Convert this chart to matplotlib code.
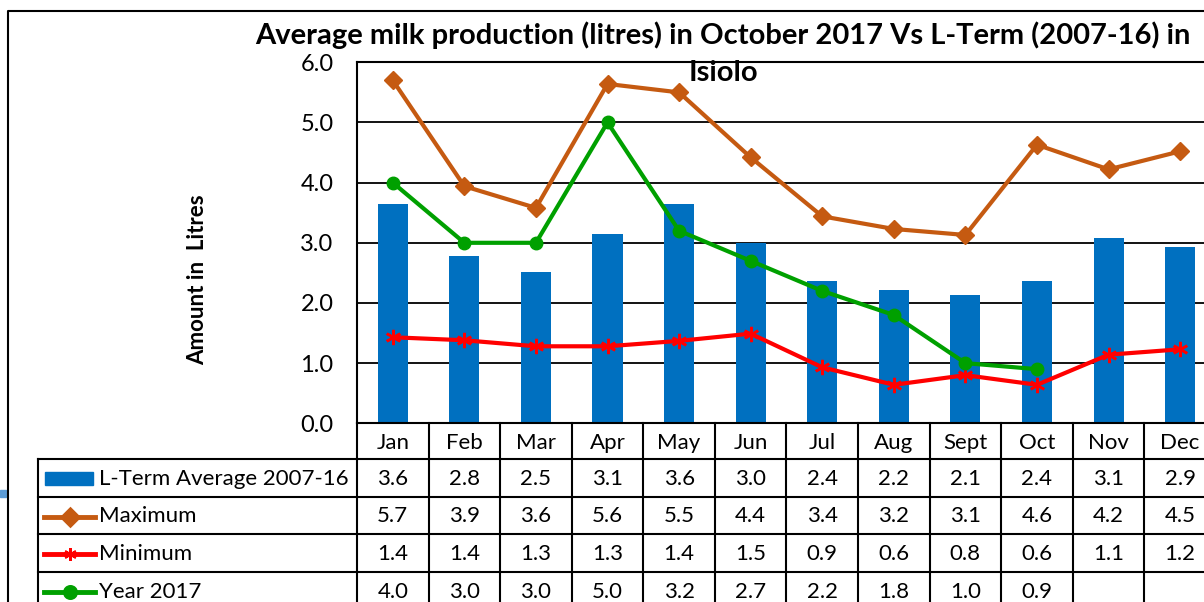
import matplotlib.pyplot as plt
from matplotlib.lines import Line2D
from matplotlib.patches import Rectangle
from matplotlib import transforms

months = ['Jan', 'Feb', 'Mar', 'Apr', 'May', 'Jun', 'Jul', 'Aug', 'Sept', 'Oct', 'Nov', 'Dec']
lterm_avg = [3.64, 2.78, 2.52, 3.14, 3.64, 3.0, 2.37, 2.22, 2.14, 2.37, 3.08, 2.93]
maximum = [5.7, 3.94, 3.58, 5.64, 5.5, 4.42, 3.44, 3.23, 3.13, 4.63, 4.22, 4.52]
minimum = [1.43, 1.38, 1.28, 1.28, 1.37, 1.49, 0.93, 0.64, 0.8, 0.64, 1.14, 1.23]
year_2017 = [4.0, 3.0, 3.0, 5.0, 3.2, 2.7, 2.2, 1.8, 1.0, 0.9]

series = [
    ('L-Term Average 2007-16', lterm_avg, '#0070C0', None),
    ('Maximum', maximum, '#C55A11', 'D'),
    ('Minimum', minimum, '#FF0000', (6, 2, 0)),
    ('Year 2017', year_2017, '#00A000', 'o'),
]

W, H = 1204, 602
FONT = 'Lato'


def fx(px): return px / W
def fy(py): return 1 - py / H


fig = plt.figure(figsize=(W / 100, H / 100), dpi=100)
# plot area runs past the right edge of the picture (cropped original)
ax = fig.add_axes([fx(357), fy(423.3), (1215.9 - 357) / W, (423.3 - 62.3) / H])

x = list(range(len(months)))
ax.bar(x, lterm_avg, width=0.42, color='#0070C0', zorder=2)
for name, vals, col, mk in series[1:]:
    xs = x[:len(vals)]
    if name == 'Minimum':
        ax.plot(xs, vals, color=col, lw=3, marker=mk, ms=11, mew=1.8, zorder=3)
    else:
        ax.plot(xs, vals, color=col, lw=3, marker=mk, ms=9, zorder=3)

ax.set_xlim(-0.5, 11.5)
ax.set_ylim(0, 6)
ax.set_yticks([0, 1, 2, 3, 4, 5, 6])
ax.set_yticklabels([f'{v:.1f}' for v in range(7)], fontsize=17, family=FONT)
ax.tick_params(axis='y', length=0, pad=17)
ax.set_xticks([])
ax.grid(axis='y', color='black', lw=1.3, zorder=1)
for s in ax.spines.values():
    s.set_linewidth(1.5)

fig.text(fx(198), fy(280), 'Amount in  Litres', rotation=90, ha='center', va='center',
         fontsize=16, fontweight='bold', family=FONT)
fig.text(fx(723), fy(35), 'Average milk production (litres) in October 2017 Vs L-Term (2007-16) in',
         ha='center', va='center', fontsize=21, fontweight='bold', family=FONT)
fig.text(fx(723), fy(73), 'Isiolo', ha='center', va='center', fontsize=21, fontweight='bold', family=FONT)

# data table below the plot
tr = transforms.blended_transform_factory(ax.transData, fig.transFigure)
rows_y = [423.3, 459, 496.7, 534.3, 572.3, 610]
lw = 1.5
for i in range(len(months) + 1):
    fig.add_artist(Line2D([i - 0.5, i - 0.5], [fy(rows_y[0]), fy(rows_y[-1])], color='black', lw=lw, transform=tr))
for ry in rows_y[1:-1]:
    fig.add_artist(Line2D([fx(38.3), fx(W + 20)], [fy(ry), fy(ry)], color='black', lw=lw))
fig.add_artist(Line2D([fx(38.3), fx(38.3)], [fy(459), fy(610)], color='black', lw=lw))

for i, m in enumerate(months):
    fig.text(i, fy((rows_y[0] + rows_y[1]) / 2 + 1.5), m, transform=tr, ha='center', va='center',
             fontsize=16, family=FONT)
for r, (name, vals, col, mk) in enumerate(series):
    yc = fy((rows_y[r + 1] + rows_y[r + 2]) / 2 + 1)
    for i, v in enumerate(vals):
        fig.text(i, yc, f'{v:.1f}', transform=tr, ha='center', va='center', fontsize=16, family=FONT)
    fig.text(fx(99), yc, name, ha='left', va='center', fontsize=16, family=FONT)
    if mk is None:
        fig.add_artist(Rectangle((fx(45), yc - 6.5 / H), 48 / W, 13 / H, color=col))
    else:
        fig.add_artist(Line2D([fx(44), fx(95)], [yc, yc], color=col, lw=3.5))
        fig.add_artist(Line2D([fx(69.5)], [yc], color=col, marker=mk, ms=9, mew=1.8))

# outer chart border and stray piece of the sheet behind it
fig.add_artist(Line2D([fx(8), fx(8), fx(W + 5)], [fy(H + 5), fy(10.5), fy(10.5)], color='black', lw=1.5))
fig.add_artist(Rectangle((0, fy(497)), 6 / W, 7 / H, color='#5B9BD5'))

fig.savefig('out.png', dpi=100)
